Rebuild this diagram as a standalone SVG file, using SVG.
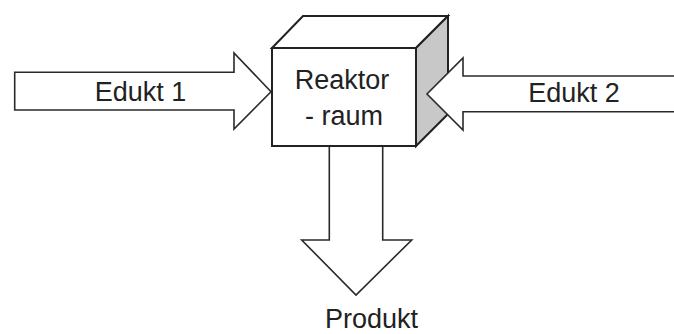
<svg xmlns="http://www.w3.org/2000/svg" width="674" height="334" viewBox="0 0 674 334">
  <style>
    .face { stroke: #222; stroke-width: 2; stroke-linejoin: miter; }
    .arrow { fill: #fff; stroke: #2a2a2a; stroke-width: 1.6; stroke-linejoin: miter; }
    .lbl { font-family: "Liberation Sans", Arial, sans-serif; font-size: 27px; fill: #222; text-anchor: middle; }
  </style>
  <rect width="674" height="334" fill="#fff"/>
  <g id="reaktor">
    <polygon class="face" fill="#fff" points="272,48 303,16 448,16 416,48"/>
    <polygon class="face" fill="#c8c8c8" points="416,48 448,16 448,114 416,146"/>
    <rect class="face" fill="#fff" x="272" y="48" width="144" height="98"/>
    <text class="lbl" x="342" y="89">Reaktor</text>
    <text class="lbl" x="344" y="125">- raum</text>
  </g>
  <g id="connectors">
    <g id="edukt1">
      <path class="arrow" d="M14.7,72.3 H234 V53 L271,91.7 L234,129 V110 H14.7 Z"/>
      <text class="lbl" x="140.5" y="101">Edukt 1</text>
    </g>
    <g id="edukt2">
      <path class="arrow" d="M690,76 H463 V58 L427,94 L463,130 V111.7 H690"/>
      <text class="lbl" x="574" y="102">Edukt 2</text>
    </g>
    <g id="produkt">
      <path class="arrow" d="M329.3,147 V240 H301.7 L356,295 L411.7,240 H382.7 V147"/>
      <text class="lbl" x="371.5" y="328">Produkt</text>
    </g>
  </g>
</svg>
